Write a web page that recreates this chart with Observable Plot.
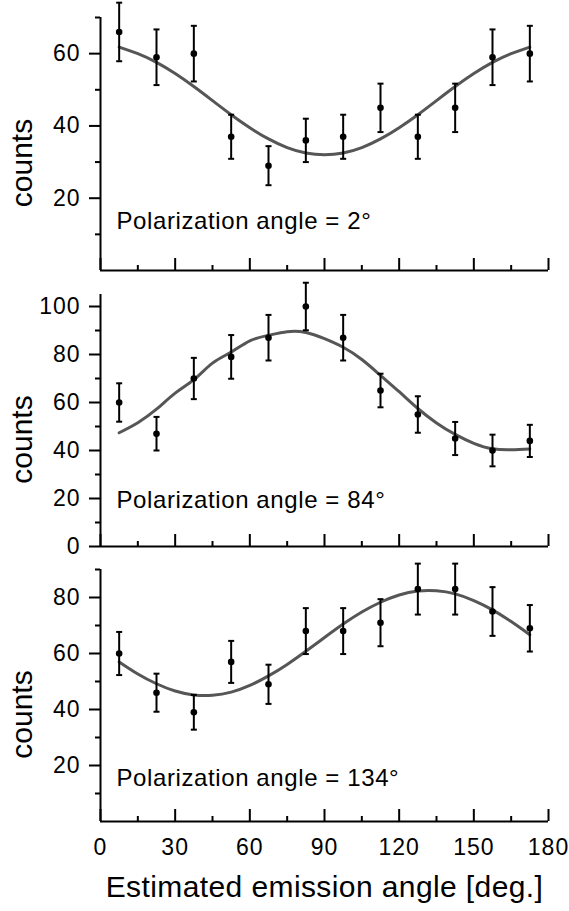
<!DOCTYPE html>
<html><head><meta charset="utf-8">
<script src="https://cdn.jsdelivr.net/npm/d3@7"></script>
<script src="https://cdn.jsdelivr.net/npm/@observablehq/plot@0.6"></script>
<style>
body{margin:0;background:#fff;}
#chart{width:569px;}
#chart svg{display:block;}
</style></head><body><div id="chart"></div>
<script>
// emission angle bins (deg)
const angles = [7.5,22.5,37.5,52.5,67.5,82.5,97.5,112.5,127.5,142.5,157.5,172.5];
// measured counts and errors per polarization angle
const counts2deg = [66,59,60,37,29,36,37,45,37,45,59,60];
const errors2deg = [8.1,7.7,7.7,6.1,5.4,6.0,6.1,6.7,6.1,6.7,7.7,7.7];
const counts84deg = [60,47,70,79,87,100,87,65,55,45,40,44];
const errors84deg = [8.0,7.0,8.6,9.1,9.5,9.9,9.5,7.0,7.6,6.9,6.6,6.7];
const counts134deg = [60,46,39,57,49,68,68,71,83,83,75,69];
const errors134deg = [7.7,6.8,6.2,7.5,7.0,8.2,8.2,8.4,9.1,9.1,8.7,8.3];
// fitted curves
const fitAngles = [7.5,15,22.5,30,37.5,45,52.5,60,67.5,75,82.5,90,97.5,105,112.5,120,127.5,135,142.5,150,157.5,165,172.5];
const fit2deg = [61.8,60.0,57.6,54.5,50.9,47.0,43.1,39.5,36.4,34.0,32.5,32.0,32.5,34.0,36.4,39.5,43.1,47.0,50.9,54.5,57.6,60.0,61.8];
const fit84deg = [47.4,51.6,57.2,63.9,69.5,76.4,81.0,85.7,88.0,89.5,89.2,86.6,83.0,77.9,71.3,64.5,57.5,51.5,46.7,43.0,40.7,40.3,40.6];
const fit134deg = [57.0,52.7,49.2,46.6,45.2,45.1,46.2,48.6,52.0,56.1,60.8,65.7,70.5,74.8,78.3,80.9,82.3,82.4,81.3,78.9,75.6,71.4,66.7];
// ticks and labels
const xMajor = [0,30,60,90,120,150,180];
const xMinor = [15,45,75,105,135,165];
const xLabel = "Estimated emission angle [deg.]";
const yLabel = "counts";
const panelLabels = ["Polarization angle = 2°","Polarization angle = 84°","Polarization angle = 134°"];
const yMax = [70,105,90];
const yMajor = [[20,40,60],[0,20,40,60,80,100],[20,40,60,80]];
const yMinor = [[10,30,50,70],[10,30,50,70,90],[10,30,50,70,90]];

const series = [[counts2deg,errors2deg,fit2deg],[counts84deg,errors84deg,fit84deg],[counts134deg,errors134deg,fit134deg]];
const layout = [
  {height:280, marginTop:17, marginBottom:10, labelDy:-42},
  {height:276, marginTop:14, marginBottom:10, labelDy:-39},
  {height:355, marginTop:13, marginBottom:90, labelDy:-36}
];
const FONT = "'Liberation Sans', Arial, Helvetica, sans-serif";
const cap = {draw(ctx){ ctx.moveTo(-3,0); ctx.lineTo(3,0); }};

series.forEach(([c,e,f],i)=>{
  const pts = angles.map((a,j)=>({x:a, y:c[j], lo:c[j]-e[j], hi:c[j]+e[j]}));
  const fit = fitAngles.map((a,j)=>({x:a, y:f[j]}));
  const L = layout[i];
  const last = i===2;
  const marks = [
    Plot.line(fit,{x:"x",y:"y",stroke:"#565656",strokeWidth:3,curve:"natural"}),
    Plot.ruleX(pts,{x:"x",y1:"lo",y2:"hi",stroke:"#000",strokeWidth:2}),
    Plot.dot(pts,{x:"x",y:"lo",symbol:cap,fill:"none",stroke:"#000",strokeWidth:2}),
    Plot.dot(pts,{x:"x",y:"hi",symbol:cap,fill:"none",stroke:"#000",strokeWidth:2}),
    Plot.dot(pts,{x:"x",y:"y",r:3.3,fill:"#000",stroke:"none"}),
    Plot.ruleX([0],{stroke:"#000",strokeWidth:2}),
    Plot.ruleY([0],{stroke:"#000",strokeWidth:2}),
    Plot.axisY(yMajor[i],{tickSize:11,tickPadding:9,strokeWidth:2,fontSize:23,label:null,fill:"#000",stroke:"#000"}),
    Plot.axisY(yMinor[i],{tickSize:5,strokeWidth:2,fill:"none",label:null,stroke:"#000"}),
    Plot.axisX(xMajor,{tickSize:12,dy:-12,strokeWidth:2,fill:"none",label:null,stroke:"#000"}),
    Plot.axisX(xMinor,{tickSize:5,dy:-5,strokeWidth:2,fill:"none",label:null,stroke:"#000"}),
    Plot.text([panelLabels[i]],{frameAnchor:"bottom-left",text:d=>d,dx:16,dy:L.labelDy,textAnchor:"start",lineAnchor:"bottom",fontSize:24,fill:"#000"}),
    Plot.text([yLabel],{frameAnchor:"left",text:d=>d,rotate:-90,dx:-69,dy:19,textAnchor:"middle",lineAnchor:"bottom",fontSize:30,fill:"#000"})
  ];
  if (last) {
    marks.push(Plot.axisX(xMajor,{tickSize:0,tickPadding:17,fontSize:23,label:null,fill:"#000",stroke:"none"}));
    marks.push(Plot.text([xLabel],{frameAnchor:"bottom",text:d=>d,dy:75,textAnchor:"middle",lineAnchor:"bottom",fontSize:30,fill:"#000"}));
  }
  const chart = Plot.plot({
    width:569, height:L.height,
    marginLeft:100, marginRight:21, marginTop:L.marginTop, marginBottom:L.marginBottom,
    x:{domain:[0,180]},
    y:{domain:[0,yMax[i]]},
    style:{fontFamily:FONT, background:"#fff", color:"#000", overflow:"visible"},
    marks
  });
  // slightly wider lettering, as in the reference
  d3.select(chart).selectAll("text").each(function(){
    const t = this.textContent;
    let ls = 0;
    if (/^\d+$/.test(t)) ls = 1;
    else if (t.startsWith("Polarization")) ls = 0.6;
    else if (t === xLabel) ls = 0.4;
    if (ls) this.setAttribute("letter-spacing", ls + "px");
  });
  document.getElementById("chart").appendChild(chart);
});
</script></body></html>
